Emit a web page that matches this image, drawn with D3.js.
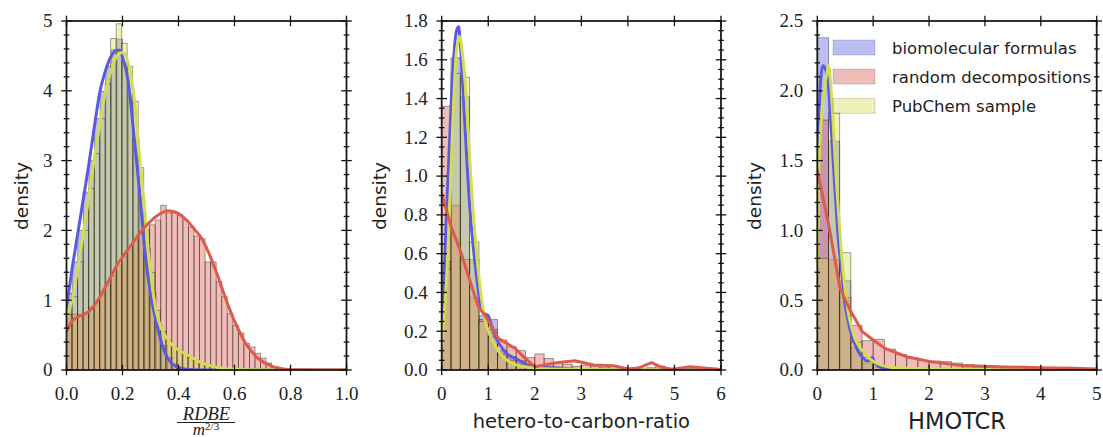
<!DOCTYPE html>
<html><head><meta charset="utf-8">
<script src="https://cdn.jsdelivr.net/npm/d3@7"></script>
<style>body{margin:0;background:#fff}svg{display:block}</style>
</head><body>
<svg id="c" width="1103" height="437"></svg>
<script>
// ---------------- data ----------------
const seriesNames = ["biomolecular formulas", "random decompositions", "PubChem sample"];

// Panel 1: RDBE / m^(2/3)
const rdbeBinWidths = [0.02, 0.0198, 0.0197];
const rdbeBioHist = [1.1,1.55,2.0,2.55,3.0,3.6,3.99,4.35,4.59,4.74,4.4,3.95,3.3,2.45,1.75,1.1,0.65,0.35,0.18,0.09,0.04,0.02,0.01,0.005];
const rdbeRandomHist = [0.78,0.80,0.80,0.82,0.90,0.97,1.08,1.22,1.35,1.50,1.62,1.72,1.85,1.95,2.02,2.08,2.15,2.36,2.25,2.26,2.22,2.15,2.05,1.92,1.88,1.55,1.55,1.27,1.05,0.81,0.64,0.53,0.38,0.33,0.24,0.17,0.10,0.05,0.03,0.01];
const rdbePubchemHist = [0.8,1.05,1.55,2.0,2.6,3.1,3.6,4.1,4.75,4.96,4.68,4.35,3.85,2.9,2.1,1.4,0.85,0.55,0.42,0.33,0.28,0.23,0.18,0.14,0.1,0.07,0.05,0.035,0.02,0.012,0.008];
const rdbeBioKde = [[0,0.9],[0.02,1.45],[0.04,1.95],[0.06,2.45],[0.08,2.95],[0.10,3.5],[0.12,4.0],[0.14,4.3],[0.16,4.5],[0.18,4.58],[0.19,4.58],[0.20,4.48],[0.22,4.15],[0.24,3.4],[0.26,2.6],[0.28,1.7],[0.30,1.1],[0.32,0.7],[0.34,0.38],[0.36,0.18],[0.38,0.08],[0.40,0.035],[0.42,0.015],[0.45,0.005],[0.5,0.001],[1.0,0]];
const rdbeRandomKde = [[0,0.55],[0.02,0.7],[0.04,0.76],[0.06,0.79],[0.08,0.84],[0.10,0.93],[0.12,1.05],[0.14,1.2],[0.16,1.35],[0.18,1.5],[0.20,1.62],[0.22,1.73],[0.24,1.84],[0.26,1.95],[0.28,2.05],[0.30,2.13],[0.32,2.2],[0.34,2.25],[0.36,2.28],[0.38,2.27],[0.40,2.24],[0.42,2.18],[0.44,2.1],[0.46,2.0],[0.48,1.9],[0.50,1.75],[0.52,1.56],[0.54,1.35],[0.56,1.12],[0.58,0.9],[0.60,0.7],[0.62,0.53],[0.64,0.38],[0.66,0.27],[0.68,0.18],[0.70,0.12],[0.72,0.08],[0.74,0.045],[0.76,0.025],[0.78,0.01],[0.80,0.003],[1.0,0]];
const rdbePubchemKde = [[0,0.75],[0.02,1.0],[0.04,1.45],[0.06,1.95],[0.08,2.5],[0.10,3.05],[0.12,3.55],[0.14,4.0],[0.16,4.3],[0.18,4.5],[0.20,4.55],[0.22,4.4],[0.24,3.95],[0.26,3.1],[0.28,2.25],[0.30,1.4],[0.32,0.85],[0.34,0.58],[0.36,0.45],[0.38,0.35],[0.40,0.29],[0.42,0.24],[0.44,0.2],[0.46,0.15],[0.48,0.11],[0.50,0.08],[0.52,0.055],[0.55,0.03],[0.60,0.01],[0.65,0.003],[1.0,0]];
const rdbeXTicks = [0, 0.2, 0.4, 0.6, 0.8, 1.0];
const rdbeYTicks = [0, 1, 2, 3, 4, 5];

// Panel 2: hetero-to-carbon-ratio
const hcBinWidths = [0.2, 0.2, 0.2];
const hcBioHist = [0.56,1.61,1.41,0.57,0.28,0.26,0.10,0.07,0.05,0.03,0.015,0.02,0.015,0.01,0.005];
const hcRandomHist = [1.36,0.85,0.57,0.375,0.26,0.21,0.155,0.12,0.10,0.065,0.083,0.06,0.035,0.03,0.02,0.025,0.02,0.015,0.018,0.012,0.01,0.008,0.012,0.02,0.01,0.005,0.008,0.01,0.008,0.005];
const hcPubchemHist = [0.52,1.53,1.51,0.66,0.25,0.17,0.08,0.05,0.03,0.02,0.01,0.005];
const hcBioKde = [[0,0.15],[0.1,0.78],[0.206,1.39],[0.28,1.68],[0.33,1.76],[0.364,1.77],[0.40,1.68],[0.49,1.30],[0.6,0.85],[0.745,0.49],[0.85,0.32],[0.93,0.29],[1.0,0.28],[1.08,0.22],[1.17,0.165],[1.35,0.096],[1.64,0.053],[1.93,0.019],[2.2,0.012],[2.5,0.01],[2.8,0.004],[3.5,0.002],[6,0]];
const hcRandomKde = [[0,0.91],[0.2,0.74],[0.393,0.62],[0.787,0.326],[1.0,0.258],[1.216,0.163],[1.575,0.112],[1.79,0.06],[2.0,0.017],[2.47,0.038],[2.86,0.048],[3.26,0.026],[3.69,0.022],[4.01,0.005],[4.22,0.01],[4.51,0.038],[4.69,0.017],[4.94,0.003],[5.33,0.017],[6.0,0.003]];
const hcPubchemKde = [[0,0.12],[0.135,0.61],[0.243,1.3],[0.315,1.64],[0.386,1.72],[0.45,1.62],[0.53,1.39],[0.636,0.955],[0.78,0.526],[0.92,0.268],[1.066,0.165],[1.245,0.088],[1.5,0.036],[1.85,0.014],[2.2,0.006],[3,0.003],[6,0]];
const hcXTicks = [0, 1, 2, 3, 4, 5, 6];
const hcYTicks = [0, 0.2, 0.4, 0.6, 0.8, 1.0, 1.2, 1.4, 1.6, 1.8];

// Panel 3: HMOTCR
const hmBinWidths = [0.2, 0.2, 0.2];
const hmBioHist = [2.38,1.64,0.64,0.16,0.05,0.02,0.005];
const hmRandomHist = [1.79,0.79,0.52,0.32,0.21,0.22,0.15,0.11,0.09,0.07,0.065,0.06,0.05,0.04,0.035,0.03,0.025,0.022,0.02,0.018,0.015,0.013,0.012,0.01,0.009];
const hmPubchemHist = [0.8,1.84,0.84,0.2,0.09,0.04,0.02,0.015,0.012,0.01,0.008,0.006,0.005];
const hmBioKde = [[0,1.45],[0.03,1.8],[0.06,2.08],[0.1,2.18],[0.15,2.15],[0.19,2.08],[0.22,1.92],[0.25,1.73],[0.28,1.53],[0.31,1.33],[0.34,1.15],[0.37,0.97],[0.40,0.84],[0.436,0.71],[0.49,0.49],[0.54,0.38],[0.58,0.30],[0.64,0.22],[0.70,0.16],[0.76,0.115],[0.82,0.086],[0.88,0.065],[0.94,0.068],[0.985,0.09],[1.02,0.06],[1.056,0.038],[1.12,0.022],[1.18,0.014],[1.3,0.006],[1.5,0],[5,0]];
const hmRandomKde = [[0,1.43],[0.209,1.03],[0.406,0.585],[0.585,0.43],[0.806,0.275],[1.0,0.215],[1.21,0.155],[1.6,0.095],[2.02,0.06],[2.61,0.031],[3.21,0.024],[3.99,0.017],[4.58,0.012],[5,0.007]];
const hmPubchemKde = [[0,0.75],[0.03,1.45],[0.072,1.8],[0.12,2.0],[0.17,2.12],[0.2,2.18],[0.24,2.05],[0.28,1.8],[0.32,1.5],[0.37,1.18],[0.42,0.9],[0.46,0.71],[0.5,0.57],[0.55,0.42],[0.61,0.31],[0.67,0.23],[0.74,0.175],[0.82,0.134],[0.9,0.095],[1.0,0.062],[1.1,0.042],[1.18,0.031],[1.3,0.02],[1.53,0.014],[2,0.008],[2.5,0.005],[3,0.003],[4,0.001],[5,0]];
const hmXTicks = [0, 1, 2, 3, 4, 5];
const hmYTicks = [0, 0.5, 1.0, 1.5, 2.0, 2.5];

// ---------------- style / layout ----------------
const colors = ["#5a5ae0", "#dc5a4e", "#d4dc50"];
const plotTop = 21, plotBottom = 370;
const panels = [
  {id:"p1", left:66.5, right:346.5, xDomain:[0,1], yDomain:[0,5], xTicks:rdbeXTicks, yTicks:rdbeYTicks,
   xFmt:d3.format(".1f"), yFmt:d3.format("d"), minorStep:0.2, binWidths:rdbeBinWidths,
   hists:[rdbeBioHist, rdbeRandomHist, rdbePubchemHist], kdes:[rdbeBioKde, rdbeRandomKde, rdbePubchemKde],
   redLinear:false, ylabX:27.5},
  {id:"p2", left:441.7, right:721, xDomain:[0,6], yDomain:[0,1.8], xTicks:hcXTicks, yTicks:hcYTicks,
   xFmt:d3.format("d"), yFmt:d3.format(".1f"), minorStep:0.05, binWidths:hcBinWidths,
   hists:[hcBioHist, hcRandomHist, hcPubchemHist], kdes:[hcBioKde, hcRandomKde, hcPubchemKde],
   redLinear:true, ylabX:385.5},
  {id:"p3", left:817.3, right:1096.7, xDomain:[0,5], yDomain:[0,2.5], xTicks:hmXTicks, yTicks:hmYTicks,
   xFmt:d3.format("d"), yFmt:d3.format(".1f"), minorStep:0.1, binWidths:hmBinWidths,
   hists:[hmBioHist, hmRandomHist, hmPubchemHist], kdes:[hmBioKde, hmRandomKde, hmPubchemKde],
   redLinear:true, ylabX:760.5}
];

const svg = d3.select("#c");
const defs = svg.append("defs");
const serif = "'Liberation Serif', 'DejaVu Serif', serif";
const sans = "'DejaVu Sans', sans-serif";

panels.forEach(p => {
  const x = d3.scaleLinear().domain(p.xDomain).range([p.left, p.right]);
  const y = d3.scaleLinear().domain(p.yDomain).range([plotBottom, plotTop]);
  defs.append("clipPath").attr("id", "clip-" + p.id)
    .append("rect").attr("x", p.left).attr("y", plotTop).attr("width", p.right - p.left).attr("height", plotBottom - plotTop);
  const g = svg.append("g");
  const plot = g.append("g").attr("clip-path", `url(#clip-${p.id})`);

  p.hists.forEach((h, si) => {
    const bw = p.binWidths[si];
    plot.append("g").selectAll("rect").data(h).join("rect")
      .attr("x", (d, i) => x(i * bw))
      .attr("width", (d, i) => x((i + 1) * bw) - x(i * bw))
      .attr("y", d => y(d))
      .attr("height", d => y(0) - y(d))
      .attr("fill", colors[si]).attr("fill-opacity", 0.4)
      .attr("stroke", "#000").attr("stroke-opacity", 0.4).attr("stroke-width", 0.9);
  });

  [0, 2, 1].forEach(si => {
    const curve = (si === 1 && p.redLinear) ? d3.curveLinear : d3.curveMonotoneX;
    const line = d3.line().x(d => x(d[0])).y(d => y(d[1])).curve(curve);
    plot.append("path").datum(p.kdes[si]).attr("d", line)
      .attr("fill", "none").attr("stroke", colors[si]).attr("stroke-width", 3)
      .attr("stroke-linejoin", "round").attr("stroke-linecap", "round");
  });

  g.append("rect").attr("x", p.left).attr("y", plotTop).attr("width", p.right - p.left).attr("height", plotBottom - plotTop)
    .attr("fill", "none").attr("stroke", "#1a1a1a").attr("stroke-width", 1.8);

  const tg = g.append("g").attr("stroke", "#111").attr("stroke-width", 1.3);
  p.xTicks.forEach(t => {
    [plotBottom, plotTop].forEach(yy => tg.append("line").attr("x1", x(t)).attr("x2", x(t)).attr("y1", yy - 5.3).attr("y2", yy + 5.3));
  });
  p.yTicks.forEach(t => {
    [p.left, p.right].forEach(xx => tg.append("line").attr("x1", xx - 5.3).attr("x2", xx + 5.3).attr("y1", y(t)).attr("y2", y(t)));
  });
  const minor = d3.range(p.yDomain[0], p.yDomain[1] + 1e-9, p.minorStep)
    .filter(v => !p.yTicks.some(t => Math.abs(t - v) < 1e-6));
  minor.forEach(t => {
    [p.left, p.right].forEach(xx => tg.append("line").attr("x1", xx - 2.8).attr("x2", xx + 2.8).attr("y1", y(t)).attr("y2", y(t)));
  });

  g.append("g").selectAll("text").data(p.xTicks).join("text")
    .attr("x", d => x(d)).attr("y", 400).attr("text-anchor", "middle")
    .attr("font-family", serif).attr("font-size", 19).attr("fill", "#222").text(d => p.xFmt(d));
  g.append("g").selectAll("text").data(p.yTicks).join("text")
    .attr("x", p.left - 14).attr("y", d => y(d) + 6.3).attr("text-anchor", "end")
    .attr("font-family", serif).attr("font-size", 19).attr("fill", "#222").text(d => p.yFmt(d));

  g.append("text").attr("transform", `translate(${p.ylabX},196) rotate(-90)`)
    .attr("text-anchor", "middle").attr("font-family", sans).attr("font-size", 18.5).attr("fill", "#222")
    .text("density");
});

svg.append("text").attr("x", 581.4).attr("y", 427.5).attr("text-anchor", "middle")
  .attr("font-family", sans).attr("font-size", 19.5).attr("fill", "#222").text("hetero-to-carbon-ratio");
svg.append("text").attr("x", 957).attr("y", 429).attr("text-anchor", "middle")
  .attr("font-family", sans).attr("font-size", 22.5).attr("fill", "#222").text("HMOTCR");

// fraction label RDBE / m^{2/3}
svg.append("text").attr("x", 206.5).attr("y", 419.5).attr("text-anchor", "middle")
  .attr("font-family", serif).attr("font-style", "italic").attr("font-size", 18.5).attr("fill", "#222").text("RDBE");
svg.append("line").attr("x1", 177).attr("x2", 235).attr("y1", 422.5).attr("y2", 422.5)
  .attr("stroke", "#222").attr("stroke-width", 1);
const den = svg.append("text").attr("x", 206).attr("y", 434.5).attr("text-anchor", "middle")
  .attr("font-family", serif).attr("font-size", 15).attr("fill", "#222");
den.append("tspan").attr("font-style", "italic").attr("font-size", 17).text("m");
den.append("tspan").attr("font-size", 11).attr("dy", -5).text("2/3");

const legRows = [47.5, 76.5, 105.8];
const leg = svg.append("g");
seriesNames.forEach((name, i) => {
  leg.append("rect").attr("x", 833).attr("y", legRows[i] - 7.5).attr("width", 42).attr("height", 15)
    .attr("fill", colors[i]).attr("fill-opacity", 0.4)
    .attr("stroke", "#000").attr("stroke-opacity", 0.15).attr("stroke-width", 1);
  leg.append("text").attr("x", 892).attr("y", legRows[i] + 6.5)
    .attr("font-family", sans).attr("font-size", 16.5).attr("fill", "#222").text(name);
});
</script>
</body></html>
